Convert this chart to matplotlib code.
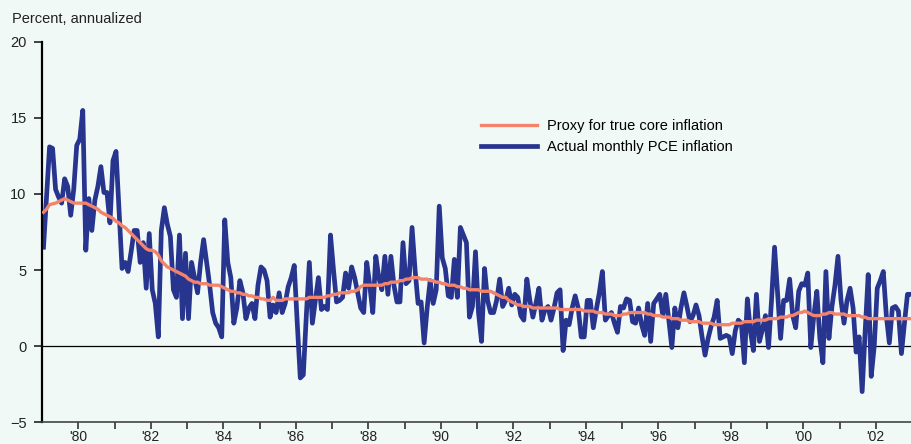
"""Monthly PCE inflation vs proxy for true core inflation."""

import matplotlib
matplotlib.use("Agg")
import matplotlib.pyplot as plt
import numpy as np

# Actual monthly PCE inflation, percent annualized, Jan 1979 - Dec 2002
pce_actual = [
    # 1979
    6.5, 9.8, 13.1, 13.0, 10.3, 9.8, 9.4, 11.0, 10.5, 8.6, 10.3, 13.2,
    # 1980
    13.6, 15.5, 6.3, 9.7, 7.6, 9.6, 10.5, 11.8, 10.1, 10.1, 8.1, 12.2,
    # 1981
    12.8, 9.0, 5.1, 5.5, 4.9, 6.2, 7.6, 7.6, 5.5, 6.8, 3.8, 7.4,
    # 1982
    3.7, 2.8, 0.6, 7.6, 9.1, 8.0, 7.2, 3.7, 3.2, 7.3, 1.8, 6.1,
    # 1983
    1.8, 5.5, 4.5, 3.5, 5.5, 7.0, 5.5, 4.0, 2.2, 1.5, 1.2, 0.6,
    # 1984
    8.3, 5.5, 4.5, 1.5, 2.5, 4.3, 3.5, 1.8, 2.5, 2.8, 1.8, 4.0,
    # 1985
    5.2, 5.0, 4.3, 1.9, 2.7, 2.2, 3.5, 2.2, 2.8, 3.9, 4.5, 5.3,
    # 1986
    1.5, -2.1, -1.9, 2.0, 5.5, 1.5, 3.0, 4.5, 2.4, 2.6, 2.4, 7.3,
    # 1987
    5.0, 2.9, 3.0, 3.2, 4.8, 3.8, 5.2, 4.5, 3.5, 2.5, 2.2, 5.5,
    # 1988
    4.0, 2.2, 5.9, 4.5, 3.7, 5.9, 3.4, 5.9, 4.0, 2.9, 2.9, 6.8,
    # 1989
    4.1, 4.3, 7.8, 5.0, 2.8, 2.9, 0.2, 2.5, 4.3, 2.8, 3.7, 9.2,
    # 1990
    5.8, 5.1, 3.3, 3.2, 5.7, 3.2, 7.8, 7.3, 6.8, 1.9, 2.6, 6.2,
    # 1991
    2.2, 0.3, 5.1, 3.0, 2.2, 2.2, 3.0, 4.4, 2.6, 3.0, 3.8, 2.7,
    # 1992
    3.4, 3.2, 2.0, 1.7, 4.4, 3.0, 1.9, 2.8, 3.8, 1.7, 2.4, 2.6,
    # 1993
    1.7, 2.5, 3.5, 3.7, -0.3, 1.7, 1.4, 2.5, 3.3, 2.5, 0.6, 0.6,
    # 1994
    3.0, 3.0, 1.2, 2.4, 3.5, 4.9, 1.7, 2.0, 2.2, 1.5, 0.9, 2.6,
    # 1995
    2.5, 3.1, 3.0, 1.6, 1.5, 2.5, 1.4, 0.7, 2.8, 0.3, 2.8, 3.1,
    # 1996
    3.4, 2.0, 3.4, 1.7, -0.1, 2.5, 1.2, 2.5, 3.5, 2.6, 1.6, 2.0,
    # 1997
    2.7, 2.0, 0.6, -0.6, 0.5, 1.3, 1.9, 3.0, 0.5, 0.6, 0.7, 0.6,
    # 1998
    -0.5, 1.0, 1.7, 1.5, -1.1, 3.1, 1.0, -0.3, 3.4, 0.3, 1.1, 2.0,
    # 1999
    -0.1, 3.0, 6.5, 3.5, 0.5, 3.0, 3.0, 4.4, 2.0, 1.2, 3.6, 4.1,
    # 2000
    4.0, 4.8, -0.1, 2.0, 3.6, 0.5, -1.1, 4.9, 0.5, 2.6, 4.0, 5.9,
    # 2001
    3.0, 1.5, 3.0, 3.8, 2.5, -0.4, 0.6, -3.0, 1.0, 4.7, -2.0, 0.0,
    # 2002
    3.8, 4.3, 4.9, 2.0, 0.2, 2.5, 2.6, 2.3, -0.5, 1.5, 3.4, 3.4,
]

# Proxy for true core inflation, same months
core_proxy = [
    8.8, 9.0, 9.3, 9.35, 9.4, 9.5, 9.6, 9.7, 9.6, 9.5, 9.4, 9.4,
    9.4, 9.4, 9.4, 9.3, 9.2, 9.1, 9.0, 8.8, 8.7, 8.6, 8.5, 8.4,
    8.2, 8.1, 7.9, 7.8, 7.6, 7.4, 7.2, 7.0, 6.8, 6.6, 6.4, 6.3,
    6.3, 6.2, 6.0, 5.6, 5.4, 5.2, 5.1, 5.0, 4.9, 4.8, 4.7, 4.6,
    4.4, 4.3, 4.2, 4.2, 4.1, 4.1, 4.1, 4.0, 4.0, 4.0, 4.0, 3.9,
    3.8, 3.7, 3.6, 3.6, 3.5, 3.5, 3.4, 3.4, 3.3, 3.3, 3.2, 3.2,
    3.1, 3.1, 3.0, 3.0, 3.2, 3.0, 3.0, 3.0, 3.1, 3.1, 3.1, 3.1,
    3.1, 3.1, 3.1, 3.1, 3.2, 3.2, 3.2, 3.2, 3.2, 3.2, 3.3, 3.3,
    3.4, 3.4, 3.5, 3.5, 3.5, 3.5, 3.6, 3.6, 3.7, 3.9, 4.0, 4.0,
    4.0, 4.0, 4.0, 4.0, 4.0, 4.1, 4.1, 4.2, 4.2, 4.2, 4.3, 4.3,
    4.4, 4.4, 4.5, 4.5, 4.5, 4.4, 4.4, 4.4, 4.3, 4.3, 4.2, 4.2,
    4.1, 4.1, 4.0, 4.0, 4.0, 3.9, 3.9, 3.8, 3.8, 3.7, 3.7, 3.7,
    3.7, 3.6, 3.6, 3.6, 3.6, 3.5, 3.4, 3.3, 3.2, 3.2, 3.0, 2.9,
    2.8, 2.7, 2.7, 2.6, 2.6, 2.6, 2.5, 2.5, 2.5, 2.5, 2.5, 2.5,
    2.5, 2.5, 2.5, 2.4, 2.4, 2.4, 2.4, 2.4, 2.4, 2.4, 2.4, 2.3,
    2.3, 2.3, 2.3, 2.2, 2.2, 2.2, 2.1, 2.1, 2.1, 2.0, 2.0, 2.0,
    2.1, 2.1, 2.2, 2.2, 2.2, 2.2, 2.2, 2.2, 2.1, 2.1, 2.0, 2.0,
    2.0, 1.9, 1.9, 1.9, 1.8, 1.8, 1.8, 1.7, 1.7, 1.7, 1.6, 1.6,
    1.6, 1.6, 1.5, 1.5, 1.5, 1.5, 1.4, 1.4, 1.4, 1.4, 1.4, 1.4,
    1.5, 1.5, 1.5, 1.5, 1.6, 1.6, 1.6, 1.6, 1.7, 1.7, 1.7, 1.7,
    1.8, 1.8, 1.8, 1.8, 1.9, 1.9, 1.9, 2.0, 2.0, 2.1, 2.2, 2.2,
    2.3, 2.2, 2.1, 2.0, 2.0, 2.0, 2.1, 2.1, 2.2, 2.2, 2.1, 2.1,
    2.1, 2.1, 2.0, 2.0, 2.0, 2.0, 2.0, 1.9, 1.9, 1.8, 1.8, 1.8,
    1.8, 1.8, 1.8, 1.8, 1.8, 1.8, 1.8, 1.8, 1.8, 1.8, 1.8, 1.8,
]

start_year = 1979
label_years = list(range(1980, 2003, 2))
tick_labels = ["'%02d" % (y % 100) for y in label_years]
y_ticks = [-5, 0, 5, 10, 15, 20]

BG = "#f1f9f7"
BLUE = "#27358f"
ORANGE = "#f4836b"
TEXT = "#222222"

plt.rcParams["font.family"] = ["Liberation Sans", "DejaVu Sans"]
plt.rcParams["font.size"] = 10.5

months = start_year + (np.arange(len(pce_actual)) + 0.5) / 12.0

fig = plt.figure(figsize=(9.12, 4.44), dpi=100, facecolor=BG)
ax = fig.add_axes([42 / 912, 22 / 444, 870 / 912, 380 / 444], facecolor=BG)

ax.axhline(0, color="black", lw=0.9, zorder=1)
ax.plot(months, pce_actual, color=BLUE, lw=3.4, zorder=2,
        label="Actual monthly PCE inflation")
ax.plot(months, core_proxy, color=ORANGE, lw=2.4, zorder=3,
        label="Proxy for true core inflation")

ax.set_xlim(start_year, 2003)
ax.set_ylim(-5, 20)

ax.set_xticks(label_years)
ax.set_xticklabels(tick_labels, fontsize=10, color=TEXT)
ax.set_xticks(range(1981, 2003, 2), minor=True)
ax.tick_params(axis="x", which="both", direction="out", length=5,
               width=1.2, color="#333333", pad=1)
ax.set_yticks(y_ticks)
ax.set_yticklabels([str(v).replace("-", "\u2212") for v in y_ticks],
                   fontsize=10.5, color=TEXT)
ax.tick_params(axis="y", direction="out", length=6, width=1.2,
               color=TEXT, pad=5)

for side in ("top", "right"):
    ax.spines[side].set_visible(False)
ax.spines["left"].set_linewidth(1.6)
ax.spines["left"].set_color("black")
ax.spines["bottom"].set_linewidth(1.2)
ax.spines["bottom"].set_color("#444444")

# Legend: orange first, then blue
handles, labels = ax.get_legend_handles_labels()
ax.legend(handles[::-1], labels[::-1], loc="upper left",
          bbox_to_anchor=(0.505, 0.797), frameon=False, fontsize=10.5,
          handlelength=3.8, handletextpad=0.7, labelspacing=0.45,
          borderpad=0, borderaxespad=0)

fig.text(12 / 912, 1 - 19 / 444, "Percent, annualized", fontsize=10.5,
         color=TEXT, va="center", ha="left")

fig.savefig("out.png", dpi=100, facecolor=BG)
